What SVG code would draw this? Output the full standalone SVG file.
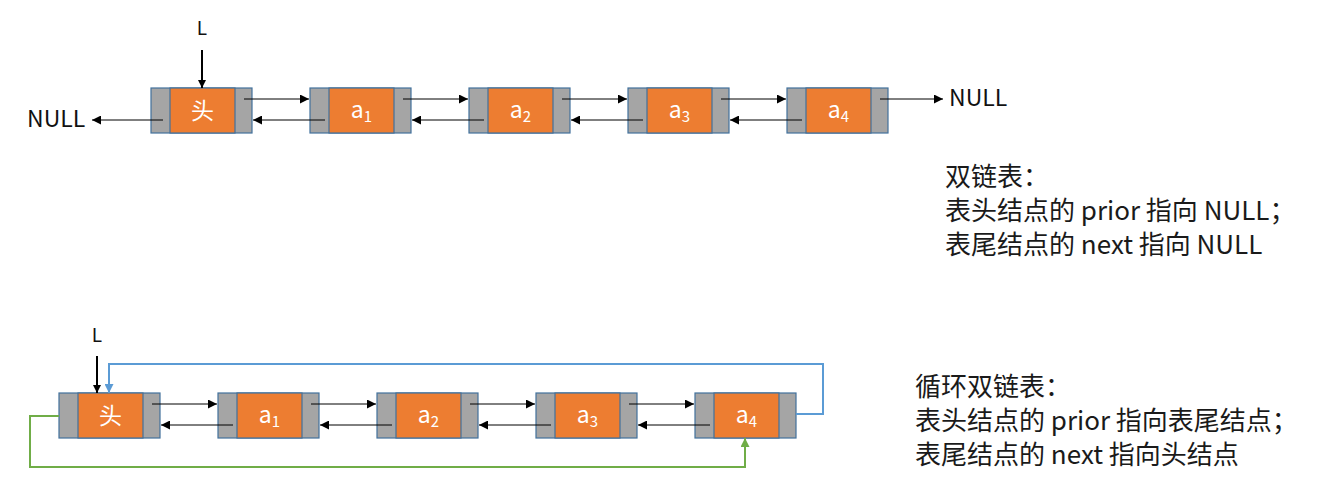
<svg xmlns="http://www.w3.org/2000/svg" width="1329" height="487" viewBox="0 0 1329 487">
<style>
.g{fill:#a5a5a5;stroke:#41719c;stroke-width:1.2}
.o{fill:#ed7d31;stroke:#41719c;stroke-width:1.2}
.lbl{font-family:"Noto Sans CJK SC","Liberation Sans",sans-serif;font-size:23px;fill:#ffffff;text-anchor:middle}
.sub{font-size:15px}
.t{font-family:"Noto Sans CJK SC","Liberation Sans",sans-serif;font-size:23px;fill:#111}
.l{font-family:"Noto Sans CJK SC","Liberation Sans",sans-serif;font-size:19px;fill:#111;text-anchor:middle}
.cn{font-family:"Noto Sans CJK SC",sans-serif;font-size:26px;fill:#1a1a1a}
.a{stroke:#000;stroke-width:1;fill:none;marker-end:url(#ah)}
.ab{stroke:#000;stroke-width:2;fill:none;marker-end:url(#ahb)}
</style>
<defs>
<marker id="ah" viewBox="0 0 10 10" refX="10" refY="5" markerWidth="9" markerHeight="9" markerUnits="userSpaceOnUse" orient="auto"><path d="M0,0L10,5L0,10z" fill="#000"/></marker>
<marker id="ahb" viewBox="0 0 10 10" refX="10" refY="5" markerWidth="8" markerHeight="8" markerUnits="userSpaceOnUse" orient="auto"><path d="M0,0L10,5L0,10z" fill="#000"/></marker>
<marker id="ahblue" viewBox="0 0 10 10" refX="10" refY="5" markerWidth="9" markerHeight="9" markerUnits="userSpaceOnUse" orient="auto"><path d="M0,0L10,5L0,10z" fill="#5b9bd5"/></marker>
<marker id="ahgreen" viewBox="0 0 10 10" refX="10" refY="5" markerWidth="9" markerHeight="9" markerUnits="userSpaceOnUse" orient="auto"><path d="M0,0L10,5L0,10z" fill="#70ad47"/></marker>
</defs>

<g id="top-head"><rect class="g" x="151" y="88" width="101" height="45"/><rect class="o" x="170" y="88" width="65" height="45"/><text class="lbl" x="202.5" y="119">头</text></g>
<g id="top-a1"><rect class="g" x="310" y="88" width="101" height="45"/><rect class="o" x="329" y="88" width="65" height="45"/><text class="lbl" x="361.5" y="118">a<tspan class="sub" dy="4">1</tspan></text></g>
<g id="top-a2"><rect class="g" x="469" y="88" width="101" height="45"/><rect class="o" x="488" y="88" width="65" height="45"/><text class="lbl" x="520.5" y="118">a<tspan class="sub" dy="4">2</tspan></text></g>
<g id="top-a3"><rect class="g" x="628" y="88" width="101" height="45"/><rect class="o" x="647" y="88" width="65" height="45"/><text class="lbl" x="679.5" y="118">a<tspan class="sub" dy="4">3</tspan></text></g>
<g id="top-a4"><rect class="g" x="787" y="88" width="101" height="45"/><rect class="o" x="806" y="88" width="65" height="45"/><text class="lbl" x="838.5" y="118">a<tspan class="sub" dy="4">4</tspan></text></g>

<g id="bot-head"><rect class="g" x="59" y="393" width="101" height="45"/><rect class="o" x="78" y="393" width="65" height="45"/><text class="lbl" x="110.5" y="424">头</text></g>
<g id="bot-a1"><rect class="g" x="218" y="393" width="101" height="45"/><rect class="o" x="237" y="393" width="65" height="45"/><text class="lbl" x="269.5" y="423">a<tspan class="sub" dy="4">1</tspan></text></g>
<g id="bot-a2"><rect class="g" x="377" y="393" width="101" height="45"/><rect class="o" x="396" y="393" width="65" height="45"/><text class="lbl" x="428.5" y="423">a<tspan class="sub" dy="4">2</tspan></text></g>
<g id="bot-a3"><rect class="g" x="536" y="393" width="101" height="45"/><rect class="o" x="555" y="393" width="65" height="45"/><text class="lbl" x="587.5" y="423">a<tspan class="sub" dy="4">3</tspan></text></g>
<g id="bot-a4"><rect class="g" x="695" y="393" width="101" height="45"/><rect class="o" x="714" y="393" width="65" height="45"/><text class="lbl" x="746.5" y="423">a<tspan class="sub" dy="4">4</tspan></text></g>

<g id="labels">
<text class="l" x="202" y="35">L</text>
<text class="t" x="27" y="127">NULL</text>
<text class="t" x="949" y="106">NULL</text>
<text class="l" x="97" y="342">L</text>
<text class="cn" x="945" y="186">双链表：</text>
<text class="cn" x="945" y="220">表头结点的 prior 指向 NULL；</text>
<text class="cn" x="945" y="254">表尾结点的 next 指向 NULL</text>
<text class="cn" x="915" y="396">循环双链表：</text>
<text class="cn" x="915" y="430">表头结点的 prior 指向表尾结点；</text>
<text class="cn" x="915" y="464">表尾结点的 next 指向头结点</text>
</g>

<g id="connectors">
<line class="ab" x1="202" y1="50" x2="202" y2="88"/>
<line class="a" x1="163" y1="120" x2="92" y2="120"/>
<line class="a" x1="880" y1="99" x2="943" y2="99"/>
<line class="a" x1="244" y1="99" x2="309" y2="99"/>
<line class="a" x1="325" y1="120" x2="253" y2="120"/>
<line class="a" x1="403" y1="99" x2="468" y2="99"/>
<line class="a" x1="484" y1="120" x2="412" y2="120"/>
<line class="a" x1="562" y1="99" x2="627" y2="99"/>
<line class="a" x1="643" y1="120" x2="571" y2="120"/>
<line class="a" x1="721" y1="99" x2="786" y2="99"/>
<line class="a" x1="802" y1="120" x2="730" y2="120"/>

<line class="ab" x1="97" y1="356" x2="97" y2="393"/>
<line class="a" x1="152" y1="404" x2="217" y2="404"/>
<line class="a" x1="233" y1="425" x2="161" y2="425"/>
<line class="a" x1="311" y1="404" x2="376" y2="404"/>
<line class="a" x1="392" y1="425" x2="320" y2="425"/>
<line class="a" x1="470" y1="404" x2="535" y2="404"/>
<line class="a" x1="551" y1="425" x2="479" y2="425"/>
<line class="a" x1="629" y1="404" x2="694" y2="404"/>
<line class="a" x1="710" y1="425" x2="638" y2="425"/>
<polyline points="796,414 823,414 823,364 109,364 109,393" fill="none" stroke="#5b9bd5" stroke-width="2" marker-end="url(#ahblue)"/>
<polyline points="59,416 30,416 30,467 745,467 745,438" fill="none" stroke="#70ad47" stroke-width="2" marker-end="url(#ahgreen)"/>
</g>
</svg>
